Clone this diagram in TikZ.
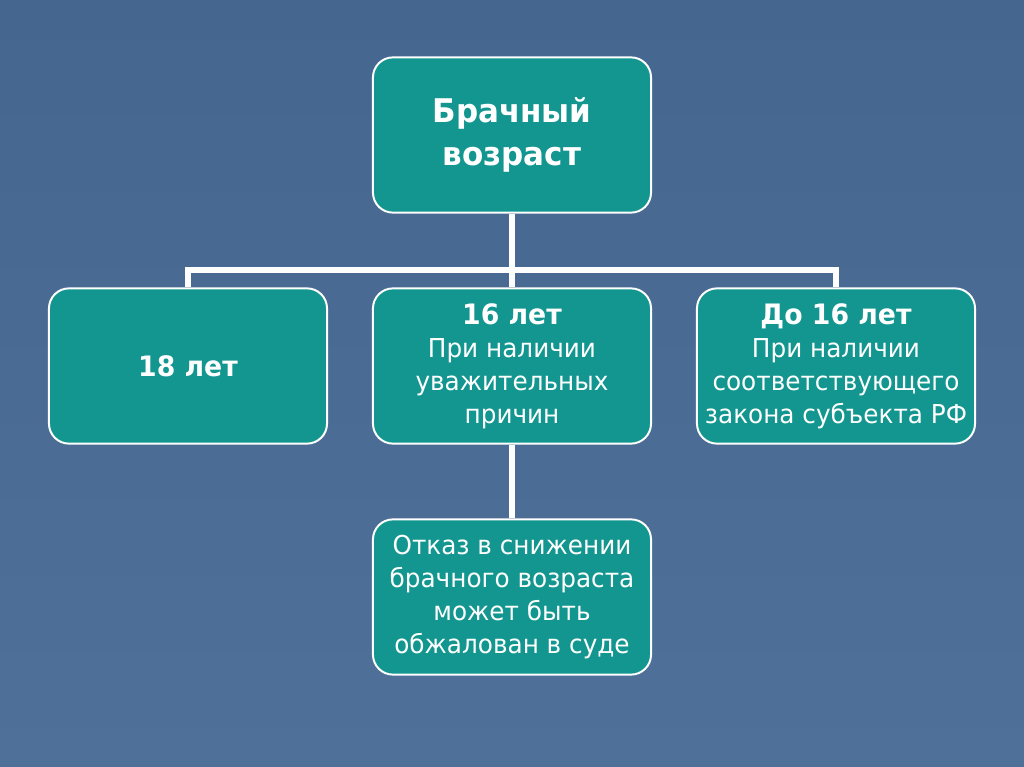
\documentclass[tikz,border=0pt]{standalone}
\usepackage{fontspec}
\setmainfont{DejaVu Sans}[FakeStretch=0.95]
\definecolor{slide-top}{HTML}{45668F}
\definecolor{slide-blue}{HTML}{4F7099}
\definecolor{box-teal}{HTML}{12968F}

\newcommand{\headfont}{\bfseries\fontsize{20}{24.5}\selectfont}

\begin{document}
\begin{tikzpicture}[x=0.025cm, y=-0.025cm,
        every node/.style={text=white, font=\fontsize{18.5}{23.5}\selectfont},
        agebox/.style={draw=white, line width=1.4pt, fill=box-teal,
            rounded corners=0.5cm, minimum width=6.95cm, minimum height=3.88cm,
            align=center, inner sep=0pt},
        link/.style={draw=white, line width=4.3pt}]
      % slide background
      \shade[top color=slide-top, bottom color=slide-blue] (0,0) rectangle (1024,767);
      \node[agebox, font=\bfseries\fontsize{23.2}{30}\selectfont]
            (AGE) at (512,135) {Брачный\\возраст};
      \node[agebox, font=\headfont] (EIGHTEEN) at (188,366) {18 лет};
      \node[agebox] (SIXTEEN) at (512,366)
            {{\headfont 16 лет}\\При наличии\\уважительных\\причин};
      \node[agebox] (UNDER) at (836,366)
            {{\headfont До 16 лет}\\При наличии\\соответствующего\\закона субъекта РФ};
      \node[agebox] (COURT) at (512,597)
            {Отказ в снижении\\брачного возраста\\может быть\\обжалован в суде};
      \coordinate (BUS) at (512,270);
      \draw[link] (AGE.south) -- (BUS) -| (EIGHTEEN.north);
      \draw[link] (BUS) -| (UNDER.north);
      \draw[link] (BUS) -- (SIXTEEN.north);
      \draw[link] (SIXTEEN.south) -- (COURT.north);
    \end{tikzpicture}
\end{document}
